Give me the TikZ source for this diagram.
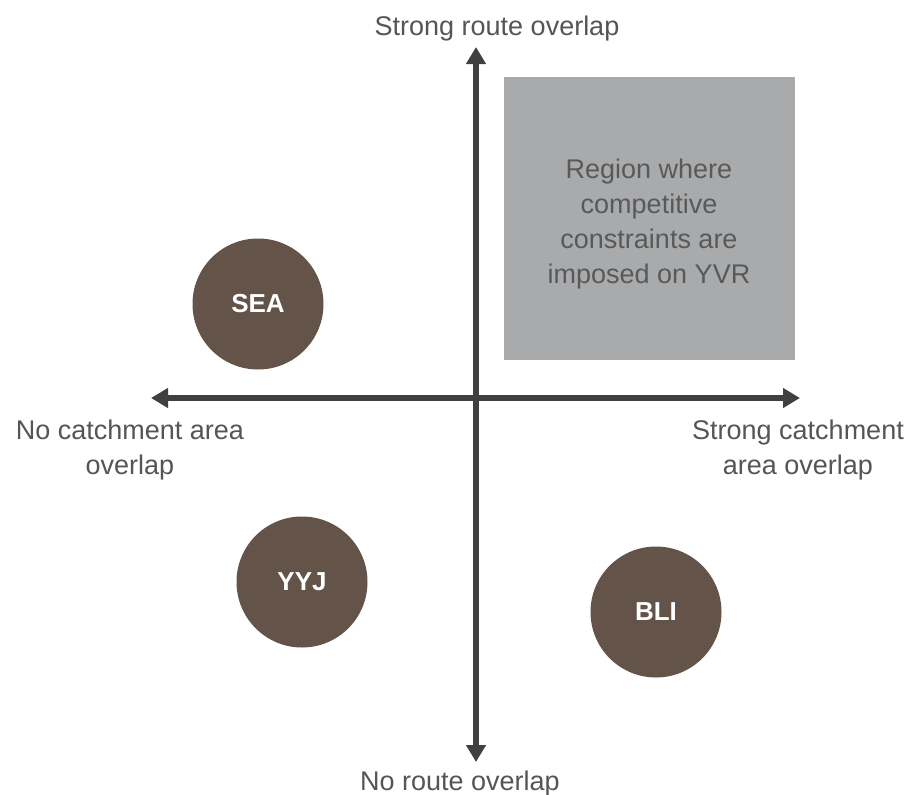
\documentclass[tikz,border=0pt]{standalone}
\usepackage{fontspec}
\setmainfont{Liberation Sans}
\usetikzlibrary{arrows.meta}
\definecolor{axisgray}{HTML}{404040}
\definecolor{labelgray}{HTML}{555555}
\definecolor{boxgray}{HTML}{A9AAAC}
\definecolor{boxtext}{HTML}{595959}
\definecolor{airport}{HTML}{635349}
\tikzset{
  axis/.style={draw=axisgray, line width=6pt,
    {Triangle[width=19pt,length=17pt]}-{Triangle[width=19pt,length=17pt]}},
  axlabel/.style={text=labelgray, align=center, inner sep=0pt,
    font=\fontsize{27}{35}\selectfont},
  airportnode/.style={circle, fill=airport, minimum size=131pt, inner sep=0pt,
    text=white, font=\fontsize{26}{30}\selectfont\bfseries},
  regionbox/.style={fill=boxgray, minimum width=291pt, minimum height=283pt,
    inner sep=0pt},
  regiontext/.style={text=boxtext, align=center, inner sep=0pt,
    font=\fontsize{27}{35}\selectfont}
}
\begin{document}
\begin{tikzpicture}[x=1pt,y=-1pt]
  \useasboundingbox (0,0) rectangle (913,795);
  % region box
  \node[regionbox] (region) at (649.5,218.5) {};
  \node[regiontext] (regionlab) at (649,224)
    {Region where\\competitive\\constraints are\\imposed on YVR};
  % axes
  \coordinate (top) at (476,47);
  \coordinate (bottom) at (476,762);
  \coordinate (left) at (151,398);
  \coordinate (right) at (800,398);
  \draw[axis] (top) -- (bottom);
  \draw[axis] (left) -- (right);
  % axis labels
  \node[axlabel, anchor=base] (toplab) at (497,35) {Strong route overlap};
  \node[axlabel, anchor=base] (botlab) at (460,790) {No route overlap};
  \node[axlabel] (leftlab) at (130,450) {No catchment area\\overlap};
  \node[axlabel] (rightlab) at (798,450) {Strong catchment\\area overlap};
  % airports
  \node[airportnode] (sea) at (258,304) {SEA};
  \node[airportnode] (yyj) at (302,582) {YYJ};
  \node[airportnode] (bli) at (656,612) {BLI};
\end{tikzpicture}
\end{document}
